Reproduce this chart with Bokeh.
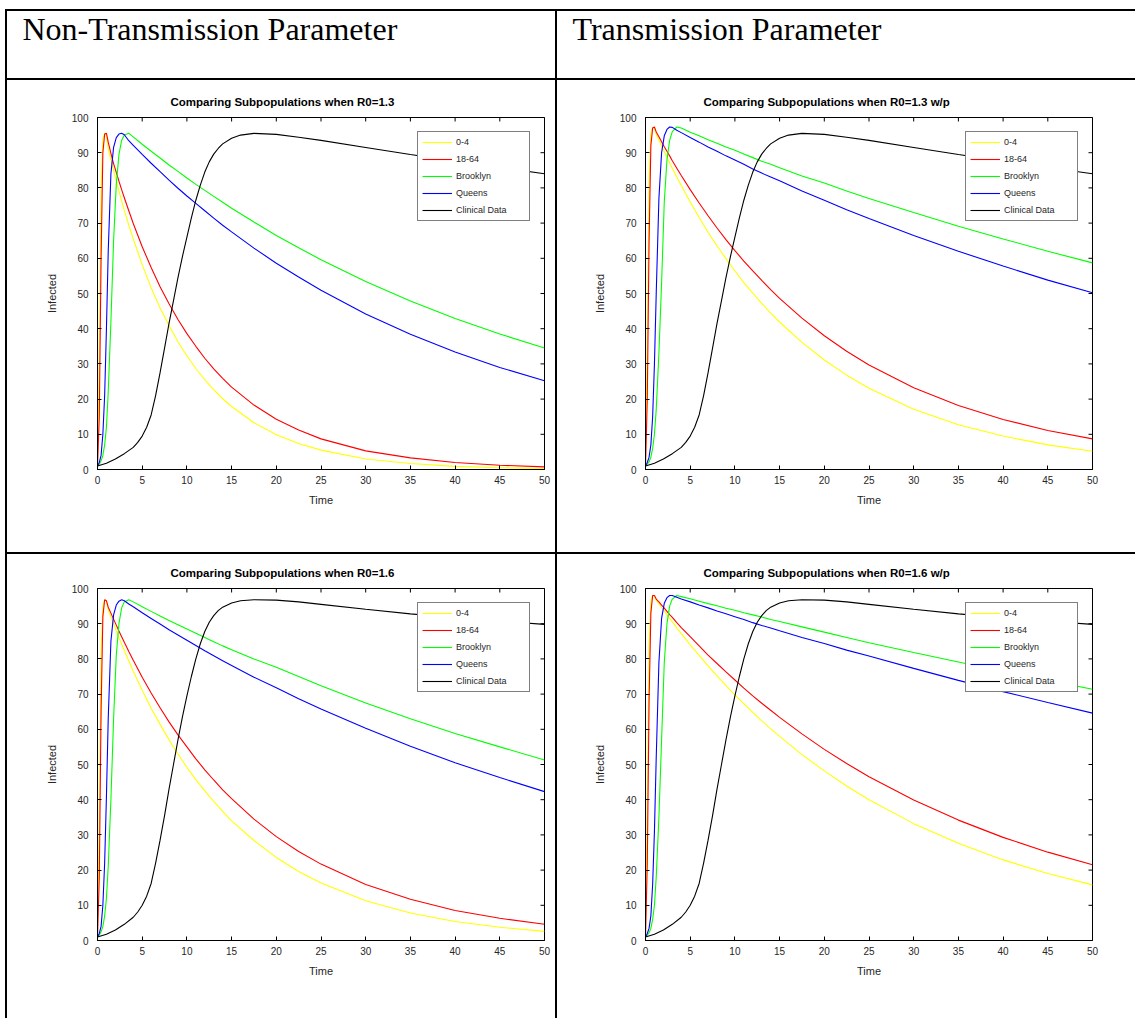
import math
from bokeh.plotting import figure
from bokeh.layouts import column, row
from bokeh.models import Div, Spacer, Label, Range1d
from bokeh.embed import file_html
from bokeh.resources import INLINE

# ---------------- data ----------------
T = [0, 0.2, 0.4, 0.6, 0.8, 1.0, 1.2, 1.5, 1.8, 2.1, 2.4, 2.7, 3.0, 3.5, 4, 5, 6, 7, 8, 9,
     10, 11, 12, 13, 14, 15, 17.5, 20, 22.5, 25, 30, 35, 40, 45, 50]
T_CLINICAL = [0, 1, 2, 3, 4, 4.5, 5, 5.5, 6, 6.5, 7, 7.5, 8, 8.5, 9, 9.5, 10, 10.5, 11, 11.5,
              12, 12.5, 13, 13.5, 14, 15, 16, 17.5, 20, 22.5, 25, 30, 35, 40, 45, 50]

SERIES_NAMES = ["0-4", "18-64", "Brooklyn", "Queens", "Clinical Data"]
SERIES_COLORS = ["#FFFF00", "#FF0000", "#00FF00", "#0000FF", "#000000"]

# R0 = 1.3 (non-transmission parameter)
AGE04_R13 = [1, 30, 80, 94, 95.5, 95, 91.1, 87.9, 84.9, 82.0, 79.1, 76.3, 73.6, 69.4, 65.5, 58.2, 51.6,
             45.9, 40.9, 36.3, 32.3, 28.7, 25.5, 22.7, 20.1, 17.9, 13.3, 9.9, 7.4, 5.5, 3.0, 1.7, 0.9, 0.5, 0.3]
AGE1864_R13 = [1, 15, 60, 90, 95.3, 95.5, 93.0, 89.8, 86.9, 84.4, 81.9, 79.5, 77.2, 73.5, 69.9, 63.3, 57.4,
               51.9, 47.1, 42.6, 38.6, 35.0, 31.6, 28.6, 25.9, 23.4, 18.3, 14.3, 11.2, 8.7, 5.3, 3.3, 2.0, 1.2, 0.75]
BROOKLYN_R13 = [1, 1.5, 2.5, 4, 7, 12, 22, 42, 65, 81, 89.5, 93.5, 95.0, 95.5, 94.5, 92.4, 90.4, 88.5,
                86.5, 84.7, 82.8, 81.0, 79.3, 77.6, 75.9, 74.2, 70.3, 66.5, 63.0, 59.6, 53.4, 47.9, 42.9, 38.5, 34.5]
QUEENS_R13 = [1, 2, 4, 10, 21, 40, 62, 84, 91.5, 94.3, 95.3, 95.5, 95.1, 93.4, 92.1, 89.5, 87.0, 84.6,
              82.2, 79.9, 77.7, 75.6, 73.5, 71.4, 69.4, 67.5, 62.9, 58.6, 54.7, 50.9, 44.2, 38.4, 33.4, 29.0, 25.2]
CLINICAL_R13 = [1, 1.8, 3.0, 4.5, 6.3, 7.7, 9.5, 12.0, 15.5, 21.0, 27.5, 34.5, 41.5, 48.0, 54.5, 60.5,
                66.0, 71.5, 76.5, 80.8, 84.5, 87.4, 89.6, 91.2, 92.5, 94.1, 95.0, 95.5, 95.2, 94.4, 93.5,
                91.5, 89.5, 87.6, 85.8, 84.0]

# R0 = 1.3 w/p (transmission parameter)
AGE04_R13P = [1, 35, 82, 95.5, 97.2, 97.0, 95.3, 93.6, 91.9, 90.3, 88.7, 87.1, 85.6, 83.1, 80.7, 76.0,
              71.6, 67.4, 63.5, 59.9, 56.4, 53.1, 50.1, 47.2, 44.4, 41.9, 36.1, 31.1, 26.8, 23.1, 17.1, 12.7, 9.5, 7.0, 5.2]
AGE1864_R13P = [1, 20, 65, 92, 97, 97.3, 95.9, 94.5, 93.1, 91.7, 90.4, 89.1, 87.7, 85.6, 83.5, 79.5,
                75.7, 72.1, 68.6, 65.3, 62.2, 59.2, 56.4, 53.7, 51.1, 48.6, 43.0, 38.0, 33.6, 29.7, 23.2, 18.2, 14.2, 11.1, 8.7]
BROOKLYN_R13P = [1, 1.5, 2.2, 3.5, 6, 10, 17, 33, 53, 76, 88, 93.5, 96, 97.3, 97.0, 95.8, 94.8, 93.7,
                 92.7, 91.6, 90.7, 89.6, 88.6, 87.6, 86.7, 85.7, 83.4, 81.4, 79.1, 77.0, 73.0, 69.1, 65.5, 62.0, 58.7]
QUEENS_R13P = [1, 2, 3.5, 7, 15, 30, 50, 77, 90, 94.8, 96.6, 97.3, 97.2, 96.4, 95.7, 94.3, 93.0, 91.6,
               90.4, 89.1, 87.9, 86.7, 85.4, 84.2, 83.1, 82.0, 79.1, 76.5, 73.8, 71.3, 66.5, 62.0, 57.8, 53.8, 50.2]

# R0 = 1.6 (non-transmission parameter)
AGE04_R16 = [1, 33, 82, 95, 96.8, 96.5, 94.0, 91.9, 90.0, 88.0, 86.1, 84.2, 82.4, 79.4, 76.5, 71.1, 66.0,
             61.4, 57.0, 53.0, 49.2, 45.7, 42.5, 39.5, 36.7, 34.0, 28.4, 23.6, 19.6, 16.35, 11.3, 7.8, 5.4, 3.75, 2.6]
AGE1864_R16 = [1, 18, 65, 92, 96.8, 96.5, 94.7, 93.0, 91.3, 89.6, 87.9, 86.3, 84.7, 82.1, 79.6, 74.8,
               70.3, 66.1, 62.1, 58.4, 55.0, 51.6, 48.5, 45.6, 42.8, 40.3, 34.5, 29.5, 25.3, 21.7, 15.9, 11.7, 8.5, 6.3, 4.6]
BROOKLYN_R16 = [1, 1.5, 2.5, 4, 7, 12, 21, 40, 63, 81, 90, 94.5, 96.2, 96.8, 96.2, 94.8, 93.5, 92.2,
                90.9, 89.7, 88.5, 87.3, 86.1, 84.9, 83.7, 82.6, 80.0, 77.6, 75.0, 72.4, 67.5, 63.0, 58.8, 55.0, 51.3]
QUEENS_R16 = [1, 2, 4, 10, 22, 41, 63, 85, 92.5, 95.3, 96.4, 96.8, 96.5, 95.6, 94.8, 93.1, 91.5, 89.9,
              88.3, 86.8, 85.3, 83.8, 82.3, 80.9, 79.5, 78.1, 74.8, 71.8, 68.7, 65.8, 60.3, 55.2, 50.5, 46.3, 42.3]
CLINICAL_R16 = [1, 1.8, 3.0, 4.6, 6.6, 8.1, 10.0, 12.6, 16.2, 22.0, 28.5, 35.5, 43.0, 50.0, 57.0, 63.5,
                69.5, 75.0, 80.0, 84.3, 87.8, 90.4, 92.3, 93.7, 94.7, 95.9, 96.5, 96.8, 96.7, 96.2, 95.5,
                94.1, 92.8, 91.7, 90.7, 89.8]

# R0 = 1.6 w/p (transmission parameter)
AGE04_R16P = [1, 37, 84, 96.5, 98, 97.8, 96.7, 95.7, 94.6, 93.6, 92.5, 91.5, 90.5, 88.8, 87.2, 84.0,
              81.0, 78.0, 75.2, 72.4, 69.8, 67.3, 64.8, 62.4, 60.2, 58.0, 52.8, 48.2, 43.9, 40.0, 33.2, 27.6, 22.9, 19.05, 15.8]
AGE1864_R16P = [1, 22, 68, 93, 98, 98, 97.0, 96.2, 95.3, 94.4, 93.5, 92.6, 91.8, 90.3, 88.9, 86.3,
                83.7, 81.1, 78.7, 76.3, 74.0, 71.7, 69.5, 67.4, 65.4, 63.4, 58.7, 54.3, 50.3, 46.5, 39.9, 34.2, 29.3, 25.1, 21.5]
BROOKLYN_R16P = [1, 1.5, 2.2, 3.5, 6, 10, 18, 35, 57, 79, 90, 95, 97, 98, 97.7, 97.1, 96.4, 95.7,
                 95.1, 94.4, 93.8, 93.1, 92.5, 91.9, 91.2, 90.6, 89.1, 87.6, 86.1, 84.6, 81.8, 79.1, 76.4, 73.9, 71.4]
QUEENS_R16P = [1, 2, 3.5, 7, 16, 31, 52, 79, 91.5, 95.8, 97.4, 98, 98, 97.5, 97.0, 96.2, 95.3, 94.5,
               93.6, 92.8, 92.0, 91.2, 90.3, 89.5, 88.8, 88.0, 86.1, 84.4, 82.5, 80.8, 77.3, 73.9, 70.7, 67.6, 64.6]

X_TICKS = [0, 5, 10, 15, 20, 25, 30, 35, 40, 45, 50]
Y_TICKS = [0, 10, 20, 30, 40, 50, 60, 70, 80, 90, 100]
X_MAX = 50
Y_MAX = 100

HEADERS = ["Non-Transmission Parameter", "Transmission Parameter"]
TITLES = ["Comparing Subpopulations when R0=1.3", "Comparing Subpopulations when R0=1.3 w/p",
          "Comparing Subpopulations when R0=1.6", "Comparing Subpopulations when R0=1.6 w/p"]

# ---------------- layout constants ----------------
PAGE_W = 1135
TOP = 9
LEFT = 5
LW = 2
W1 = 548
W2 = PAGE_W - LEFT - LW - W1 - LW
HEAD_H = 67
ROW1_H = 472
ROW2_H = 464

SANS = "Liberation Sans"
SERIF = "Liberation Serif"


def bar(w, h):
    return Div(text="", width=w, height=h, margin=0,
               styles={"background-color": "#000000"})


def header_cell(text, w, h):
    p = figure(width=w, height=h, x_range=Range1d(0, w), y_range=Range1d(0, h),
               output_backend="svg", toolbar_location=None, title=None,
               x_axis_type=None, y_axis_type=None, min_border=0)
    p.outline_line_color = None
    p.background_fill_color = "white"
    p.border_fill_color = "white"
    p.add_layout(Label(x=15, y=h - 17, text=text,
                       text_font=SERIF, text_font_size="32px", text_color="black",
                       text_baseline="alphabetic"))
    return p


def chart(title, series, w, h, ml, mr, mt, mb, title_offset):
    p = figure(width=w, height=h, x_range=Range1d(0, X_MAX), y_range=Range1d(0, Y_MAX),
               output_backend="svg", toolbar_location=None,
               min_border_left=ml, min_border_right=mr,
               min_border_top=mt, min_border_bottom=mb)
    p.background_fill_color = "white"
    p.border_fill_color = "white"
    p.outline_line_color = "black"
    p.outline_line_width = 1
    p.xgrid.visible = False
    p.ygrid.visible = False

    for i, (name, color, ys) in enumerate(zip(SERIES_NAMES, SERIES_COLORS, series)):
        xs = T_CLINICAL if i == 4 else T
        p.line(xs, ys, line_color=color, line_width=1.1, legend_label=name)

    # inward tick marks on the top and right edges of the box (MATLAB style)
    p.scatter(X_TICKS, [Y_MAX] * len(X_TICKS), marker="dash", size=8, angle=math.pi / 2,
              line_color="black", line_width=1)
    p.scatter([X_MAX] * len(Y_TICKS), Y_TICKS, marker="dash", size=8,
              line_color="black", line_width=1)

    p.title.text = title
    p.title.align = "left"
    p.title.offset = title_offset
    p.title.text_font = SANS
    p.title.text_font_size = "11.5px"
    p.title.text_font_style = "bold"
    p.title.text_color = "black"
    p.title.standoff = 19

    xa = p.xaxis[0]
    ya = p.yaxis[0]
    xa.ticker = X_TICKS
    ya.ticker = Y_TICKS
    xa.axis_label = "Time"
    ya.axis_label = "Infected"
    for ax in (xa, ya):
        ax.major_tick_in = 4
        ax.major_tick_out = 0
        ax.minor_tick_line_color = None
        ax.axis_line_color = "black"
        ax.major_tick_line_color = "black"
        ax.major_label_text_font = SANS
        ax.major_label_text_font_size = "10px"
        ax.major_label_text_color = "#262626"
        ax.axis_label_text_font = SANS
        ax.axis_label_text_font_size = "11px"
        ax.axis_label_text_font_style = "normal"
        ax.axis_label_text_color = "#262626"
    xa.major_label_standoff = 6
    xa.axis_label_standoff = 7
    ya.major_label_standoff = 9
    ya.axis_label_standoff = 11

    lg = p.legend[0]
    lg.location = "top_right"
    lg.margin = 14
    lg.padding = 4
    lg.spacing = 5
    lg.glyph_width = 30
    lg.glyph_height = 12
    lg.label_height = 12
    lg.label_width = 69
    lg.label_standoff = 4
    lg.label_text_font = SANS
    lg.label_text_font_size = "9px"
    lg.label_text_color = "#262626"
    lg.border_line_color = "black"
    lg.border_line_width = 1
    lg.background_fill_color = "white"
    lg.background_fill_alpha = 1
    return p


h1 = header_cell(HEADERS[0], W1, HEAD_H)
h2 = header_cell(HEADERS[1], W2, HEAD_H)

c1 = chart(TITLES[0], [AGE04_R13, AGE1864_R13, BROOKLYN_R13, QUEENS_R13, CLINICAL_R13],
           W1, ROW1_H, 90, W1 - 90 - 447, 37, ROW1_H - 37 - 352, 73)
c2 = chart(TITLES[1], [AGE04_R13P, AGE1864_R13P, BROOKLYN_R13P, QUEENS_R13P, CLINICAL_R13],
           W2, ROW1_H, 88, W2 - 88 - 447, 37, ROW1_H - 37 - 352, 58)
c3 = chart(TITLES[2], [AGE04_R16, AGE1864_R16, BROOKLYN_R16, QUEENS_R16, CLINICAL_R16],
           W1, ROW2_H, 90, W1 - 90 - 447, 34, ROW2_H - 34 - 352, 73)
c4 = chart(TITLES[3], [AGE04_R16P, AGE1864_R16P, BROOKLYN_R16P, QUEENS_R16P, CLINICAL_R16],
           W2, ROW2_H, 88, W2 - 88 - 447, 34, ROW2_H - 34 - 352, 58)


def hrule():
    return row(Spacer(width=LEFT, height=LW), bar(PAGE_W - LEFT, LW), spacing=0)


def table_row(a, b, h):
    return row(Spacer(width=LEFT, height=h), bar(LW, h), a, bar(LW, h), b, spacing=0)


page = column(
    Spacer(width=PAGE_W, height=TOP),
    hrule(),
    table_row(h1, h2, HEAD_H),
    hrule(),
    table_row(c1, c2, ROW1_H),
    hrule(),
    table_row(c3, c4, ROW2_H),
    spacing=0,
)

open("out.html", "w").write(file_html(page, INLINE))
